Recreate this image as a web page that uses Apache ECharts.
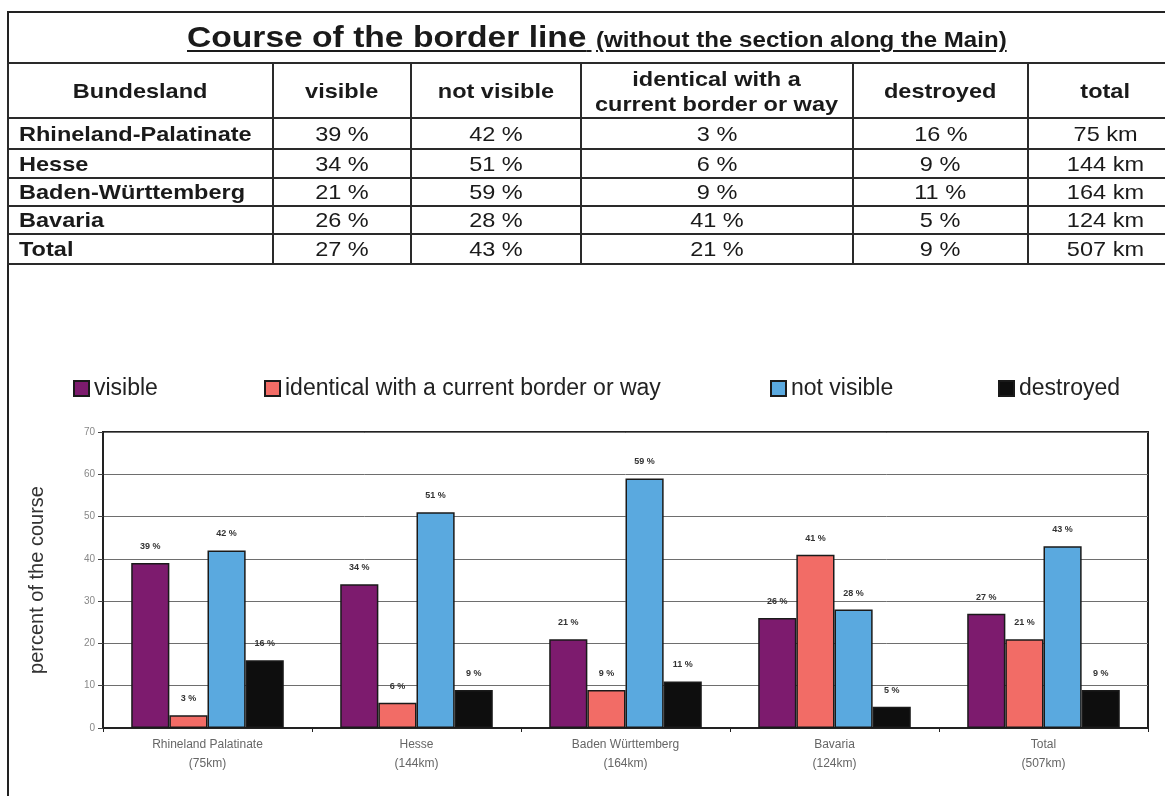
<!DOCTYPE html>
<html>
<head>
<meta charset="utf-8">
<script src="https://cdn.jsdelivr.net/npm/echarts@6/dist/echarts.min.js"></script>
<style>
html,body{margin:0;padding:0;background:#fff;width:1165px;height:796px;overflow:hidden;font-family:"Liberation Sans",Arial,sans-serif;color:#1a1a1a;}
#chart{position:absolute;left:0;top:0;width:1165px;height:796px;}
#frame{position:absolute;left:7px;top:11px;width:1300px;height:900px;border-left:2px solid #222;border-top:2px solid #222;pointer-events:none;}
#title{position:absolute;left:187px;top:20px;white-space:nowrap;line-height:34px;font-weight:bold;transform:scaleX(1.12);transform-origin:left center;text-decoration:underline;text-decoration-thickness:2px;text-underline-offset:3px;}
#title .big{font-size:30px;}
#title .small{font-size:21.5px;margin-left:4px;}
#tbl{position:absolute;left:7px;top:62px;border-collapse:collapse;table-layout:fixed;}
#tbl td{border:2px solid #2a2a2a;padding:0;font-size:21px;text-align:center;vertical-align:middle;overflow:hidden;white-space:nowrap;}
#tbl td .s{display:inline-block;transform:scaleX(1.12);transform-origin:center center;}
#tbl td.first{text-align:left;padding-left:10px;font-weight:bold;}
#tbl td.first .s{transform-origin:left center;}
#tbl tr.head td{font-weight:bold;line-height:25px;}
</style>
</head>
<body>
<div id="chart"></div>
<div id="frame"></div>
<div id="title"><span class="big">Course of the border line</span> <span class="small">(without the section along the Main)</span></div>
<table id="tbl"></table>
<script>
// ---------- table data ----------
const tableHeaders = ['Bundesland', 'visible', 'not visible', 'identical with a\ncurrent border or way', 'destroyed', 'total'];
const states = ['Rhineland-Palatinate', 'Hesse', 'Baden-Württemberg', 'Bavaria', 'Total'];
const visiblePct = [39, 34, 21, 26, 27];
const notVisiblePct = [42, 51, 59, 28, 43];
const identicalPct = [3, 6, 9, 41, 21];
const destroyedPct = [16, 9, 11, 5, 9];
const totalKm = [75, 144, 164, 124, 507];

// ---------- chart data ----------
const chartCategories = ['Rhineland Palatinate', 'Hesse', 'Baden Württemberg', 'Bavaria', 'Total'];
const seriesNames = ['visible', 'identical with a current border or way', 'not visible', 'destroyed'];
const yTicks = [0, 10, 20, 30, 40, 50, 60, 70];

// build the table
const colWidths = [265, 138, 170, 272, 175, 155];
const rowHeights = [55, 31, 29, 28, 28, 30];
const tbl = document.getElementById('tbl');
tbl.style.width = colWidths.reduce((a, b) => a + b, 0) + 'px';
const cg = document.createElement('colgroup');
colWidths.forEach(w => { const c = document.createElement('col'); c.style.width = w + 'px'; cg.appendChild(c); });
tbl.appendChild(cg);
function cell(tr, text, cls) {
  const td = document.createElement('td');
  if (cls) td.className = cls;
  const lines = String(text).split('\n');
  const sp = document.createElement('span');
  sp.className = 's';
  lines.forEach((l, i) => { if (i) sp.appendChild(document.createElement('br')); sp.appendChild(document.createTextNode(l)); });
  td.appendChild(sp);
  tr.appendChild(td);
  return td;
}
const hr = document.createElement('tr');
hr.className = 'head';
hr.style.height = rowHeights[0] + 'px';
tableHeaders.forEach(h => cell(hr, h));
tbl.appendChild(hr);
states.forEach((s, i) => {
  const tr = document.createElement('tr');
  tr.style.height = rowHeights[i + 1] + 'px';
  cell(tr, s, 'first');
  cell(tr, visiblePct[i] + ' %');
  cell(tr, notVisiblePct[i] + ' %');
  cell(tr, identicalPct[i] + ' %');
  cell(tr, destroyedPct[i] + ' %');
  cell(tr, totalKm[i] + ' km');
  tbl.appendChild(tr);
});

// chart
const chart = echarts.init(document.getElementById('chart'), null, {renderer: 'canvas'});
const seriesData = [visiblePct, identicalPct, notVisiblePct, destroyedPct];
const colors = ['#7d1b6e', '#f26c66', '#5aa9df', '#0e0e0e'];
const legendLefts = [68, 259, 765, 993];

const option = {
  animation: false,
  backgroundColor: 'transparent',
  textStyle: {fontFamily: 'Liberation Sans, Arial, sans-serif'},
  grid: {left: 103, right: 17, top: 432, bottom: 68, show: true, borderColor: '#222', borderWidth: 2, containLabel: false},
  legend: seriesNames.map((n, i) => ({
    data: [n], left: legendLefts[i], top: 372, icon: 'rect',
    itemWidth: 15, itemHeight: 15,
    textStyle: {fontSize: 23, color: '#222', fontFamily: 'Liberation Sans, Arial, sans-serif'},
    selectedMode: false
  })),
  xAxis: {
    type: 'category',
    data: chartCategories.map((c, i) => c + '\n(' + totalKm[i] + 'km)'),
    axisLine: {lineStyle: {color: '#222', width: 2}},
    axisTick: {show: true, length: 4, lineStyle: {color: '#222'}},
    axisLabel: {fontSize: 12, color: '#666', lineHeight: 19, margin: 7}
  },
  yAxis: {
    type: 'value', min: yTicks[0], max: yTicks[yTicks.length - 1], interval: 10,
    name: 'percent of the course', nameLocation: 'middle', nameGap: 56,
    nameTextStyle: {fontSize: 20, color: '#333'},
    axisLine: {show: true, lineStyle: {color: '#222', width: 2}},
    axisTick: {show: true, length: 5, lineStyle: {color: '#444'}},
    axisLabel: {fontSize: 10, color: '#888', margin: 8},
    splitLine: {lineStyle: {color: '#6e6e6e', width: 1}}
  },
  series: seriesNames.map((n, i) => ({
    name: n, type: 'bar', data: seriesData[i],
    barGap: '0%', barCategoryGap: '27%',
    itemStyle: {color: colors[i], borderColor: '#1a1a1a', borderWidth: 1.5},
    label: {show: true, position: 'top', distance: 12, fontSize: 9, fontWeight: 'bold', color: '#333', formatter: p => p.value + ' %'}
  }))
};
chart.setOption(option);
</script>
</body>
</html>
